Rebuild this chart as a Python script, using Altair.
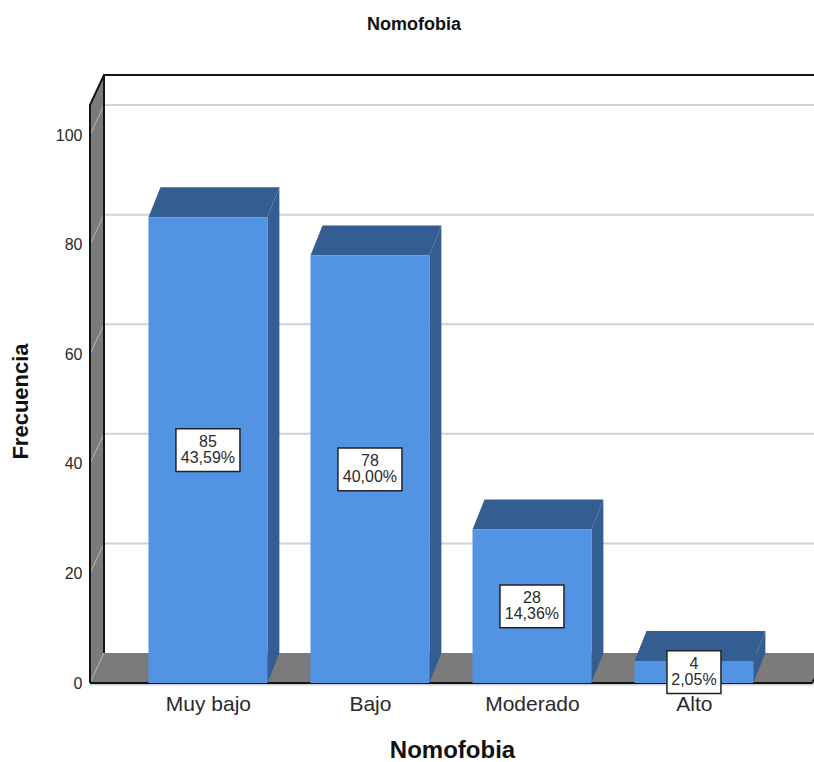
import altair as alt
import pandas as pd

# Nomofobia survey results
categories = ["Muy bajo", "Bajo", "Moderado", "Alto"]
counts = [85, 78, 28, 4]
percents = ["43,59%", "40,00%", "14,36%", "2,05%"]
y_ticks = [0, 20, 40, 60, 80, 100]

FONT = "Liberation Sans"
FRONT, DARK = "#5294e3", "#345d91"
WALL = "#7b7b7b"
GRID = "#d2d2d2"
EDGE = "#141414"
TEXT = "#2a2a2a"

# Scale extents and the oblique depth of the box, in axis units
X_MIN, X_MAX = -0.728, 3.741
Y_MAX = 110.95
BAR_HALF = 0.367
BAR_DX, WALL_DX = 0.074, 0.0864
DY = 5.47
BOX_H = 3.9

x_scale = alt.Scale(domain=[X_MIN, X_MAX], nice=False, zero=False)
y_scale = alt.Scale(domain=[0, Y_MAX], nice=False)

x_axis = alt.Axis(
    values=[0, 1, 2, 3], grid=False, domain=False, ticks=False, title="Nomofobia",
    labelExpr="%r[datum.value]" % categories,
    labelFont=FONT, labelFontSize=21, labelColor=TEXT, labelPadding=10,
    labelOverlap=False, labelFlush=False, labelBound=False,
    titleFont=FONT, titleFontSize=24, titleFontWeight="bold", titleColor="#111111",
    titleY=55, titleBaseline="top")
y_axis = alt.Axis(
    values=y_ticks, grid=False, domain=False, ticks=False, title="Frecuencia",
    labelFont=FONT, labelFontSize=16, labelColor=TEXT, labelPadding=8,
    titleFont=FONT, titleFontSize=22, titleFontWeight="bold", titleColor="#111111",
    titleX=-58, titleY=326)

X = alt.X("x:Q", scale=x_scale, axis=x_axis)
Y = alt.Y("y:Q", scale=y_scale, axis=y_axis)
Y2 = alt.Y2("y2:Q")

# Walls, floor, grid and frame
x0, x1 = X_MIN, X_MIN + WALL_DX
far = X_MAX + 0.1
wall = pd.DataFrame([
    dict(x=x0, y=Y_MAX - DY, y2=0),
    dict(x=x1, y=Y_MAX, y2=DY),
])
floor = pd.DataFrame([
    dict(x=x0, y=0, y2=0),
    dict(x=x1, y=DY, y2=0),
    dict(x=X_MAX - 0.012, y=DY, y2=0),
    dict(x=far, y=DY, y2=DY),
])
back_rows, diag_rows = [], []
for t in y_ticks:
    diag_rows += [dict(x=x0, y=t, g=t), dict(x=x1, y=t + DY, g=t)]
    if t > 0:
        back_rows += [dict(x=x1, y=t + DY, g=t), dict(x=X_MAX, y=t + DY, g=t)]
back = pd.DataFrame(back_rows)
diag = pd.DataFrame(diag_rows)
edges = pd.DataFrame([
    dict(x=x0, y=0, g="a"), dict(x=x0, y=Y_MAX - DY, g="a"),
    dict(x=x1, y=Y_MAX, g="a"), dict(x=X_MAX, y=Y_MAX, g="a"),
    dict(x=x1, y=DY, g="b"), dict(x=x1, y=Y_MAX, g="b"),
    dict(x=x0, y=0, g="c"), dict(x=X_MAX - 0.012, y=0, g="c"),
    dict(x=far, y=DY, g="c"),
])
edges["o"] = range(len(edges))
# Pale rim under the floor's front edge
rim = pd.DataFrame([dict(x=x0, y=-0.3), dict(x=X_MAX, y=-0.3)])

# One side face, top face and front face per bar
side_rows, top_rows, front_rows, box_rows = [], [], [], []
for i, (name, v, p) in enumerate(zip(categories, counts, percents)):
    l, r = i - BAR_HALF, i + BAR_HALF
    side_rows += [dict(x=r, y=v, y2=0, g=name),
                  dict(x=r + BAR_DX, y=v + DY, y2=DY, g=name)]
    top_rows += [dict(x=l, y=v, y2=v, g=name),
                 dict(x=l + BAR_DX, y=v + DY, y2=v, g=name),
                 dict(x=r, y=v + DY, y2=v, g=name),
                 dict(x=r + BAR_DX, y=v + DY, y2=v + DY, g=name)]
    front_rows.append(dict(x=l, x2=r, y=v, y2=0))
    half = (len(p) * 10 + 4) / 2 / 162
    box_rows.append(dict(x=i - half, x2=i + half, cx=i,
                         y=v / 2 - BOX_H, y2=v / 2 + BOX_H, mid=v / 2,
                         count=str(v), pct=p))
side, top, front, box = map(pd.DataFrame, (side_rows, top_rows, front_rows, box_rows))


def area(df, color):
    return alt.Chart(df).mark_area(color=color, orient="vertical", clip=True, opacity=1)


box_x = alt.X("cx:Q", scale=x_scale, axis=x_axis)
box_y = alt.Y("mid:Q", scale=y_scale, axis=y_axis)

chart = alt.layer(
    area(wall, WALL).encode(x=X, y=Y, y2=Y2),
    area(floor, WALL).encode(x=X, y=Y, y2=Y2),
    alt.Chart(back).mark_line(color=GRID, strokeWidth=2, clip=True).encode(x=X, y=Y, detail="g:N"),
    alt.Chart(diag).mark_line(color="#b5b5b5", strokeWidth=1, clip=True).encode(x=X, y=Y, detail="g:N"),
    alt.Chart(rim).mark_line(color="#cfcfcf", strokeWidth=1.5).encode(x=X, y=Y),
    alt.Chart(edges).mark_line(color=EDGE, strokeWidth=2).encode(
        x=X, y=Y, detail="g:N", order=alt.Order("o:Q")),
    area(side, DARK).encode(x=X, y=Y, y2=Y2, detail="g:N"),
    area(top, DARK).encode(x=X, y=Y, y2=Y2, detail="g:N"),
    alt.Chart(front).mark_rect(color=FRONT).encode(x=X, x2="x2:Q", y=Y, y2=Y2),
    alt.Chart(box).mark_rect(fill="white", stroke="#222222", strokeWidth=1.5).encode(x=X, x2="x2:Q", y=Y, y2=Y2),
    alt.Chart(box).mark_text(font=FONT, fontSize=16, color=TEXT, dy=-8).encode(x=box_x, y=box_y, text="count:N"),
    alt.Chart(box).mark_text(font=FONT, fontSize=16, color=TEXT, dy=8).encode(x=box_x, y=box_y, text="pct:N"),
).properties(
    width=724, height=608,
    autosize=alt.AutoSizeParams(type="none"),
    padding={"left": 90, "top": 75, "right": 0, "bottom": 79},
    background="white",
    title=alt.TitleParams("Nomofobia", font=FONT, fontSize=18, fontWeight="bold",
                          color="#111111", anchor="middle", dx=-38, offset=37),
).configure_view(stroke=None)

chart.save("out.html", embed_options={"renderer": "svg", "actions": False})
